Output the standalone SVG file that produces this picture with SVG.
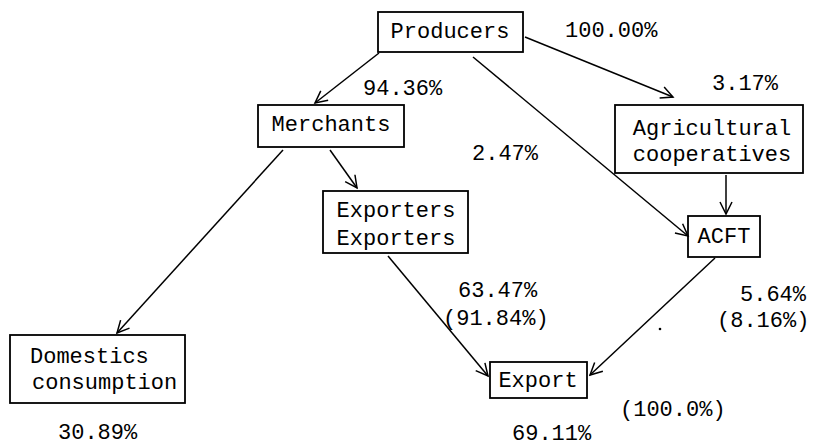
<svg xmlns="http://www.w3.org/2000/svg" width="817" height="447" viewBox="0 0 817 447">
<style>
.box{fill:none;stroke:#000;stroke-width:1.8}
.t{font-family:"Liberation Mono","Courier New",monospace;font-size:22px;fill:#000}
.c{text-anchor:middle}
.ln{fill:none;stroke:#000;stroke-width:1.5}
</style>
<defs>
<marker id="ah" viewBox="-14 -8 16 16" markerWidth="16" markerHeight="16" refX="0" refY="0" orient="auto" markerUnits="userSpaceOnUse">
<path d="M-12,-6 L0,0 L-12,6" fill="none" stroke="#000" stroke-width="1.5"/>
</marker>
</defs>
<rect width="817" height="447" fill="#fff"/>
<g id="connectors">
<line class="ln" x1="379" y1="53" x2="315" y2="103" marker-end="url(#ah)"/>
<line class="ln" x1="525" y1="37" x2="673" y2="97" marker-end="url(#ah)"/>
<line class="ln" x1="473" y1="57" x2="688" y2="236" marker-end="url(#ah)"/>
<line class="ln" x1="330" y1="150" x2="357" y2="188" marker-end="url(#ah)"/>
<line class="ln" x1="283" y1="150" x2="117" y2="333" marker-end="url(#ah)"/>
<line class="ln" x1="726" y1="175" x2="726" y2="214" marker-end="url(#ah)"/>
<line class="ln" x1="388" y1="256" x2="488" y2="376" marker-end="url(#ah)"/>
<line class="ln" x1="715" y1="258" x2="590" y2="375" marker-end="url(#ah)"/>
</g>
<g id="producers"><rect class="box" x="378" y="12" width="145" height="40"/><text class="t c" x="450" y="38">Producers</text></g>
<g id="merchants"><rect class="box" x="258" y="105" width="146" height="42"/><text class="t c" x="331" y="131">Merchants</text></g>
<g id="agri"><rect class="box" x="615" y="105" width="188" height="68"/><text class="t c" x="712" y="135">Agricultural</text><text class="t c" x="712" y="161">cooperatives</text></g>
<g id="acft"><rect class="box" x="688" y="216" width="72" height="41"/><text class="t c" x="724" y="243">ACFT</text></g>
<g id="exporters"><rect class="box" x="323" y="191" width="145" height="62"/><text class="t c" x="396" y="217">Exporters</text><text class="t c" x="396" y="245">Exporters</text></g>
<g id="domestics"><rect class="box" x="10" y="335" width="175" height="68"/><text class="t" x="30" y="363">Domestics</text><text class="t" x="32" y="389">consumption</text></g>
<g id="export"><rect class="box" x="490" y="362" width="97" height="36"/><text class="t c" x="538" y="387">Export</text></g>
<g id="labels">
<text class="t" x="565" y="37">100.00%</text>
<text class="t" x="363" y="95">94.36%</text>
<text class="t" x="712" y="90">3.17%</text>
<text class="t" x="472" y="160">2.47%</text>
<text class="t" x="458" y="297">63.47%</text>
<text class="t" x="443" y="325">(91.84%)</text>
<text class="t" x="740" y="301">5.64%</text>
<text class="t" x="717" y="327">(8.16%)</text>
<text class="t" x="620" y="416">(100.0%)</text>
<text class="t" x="512" y="440">69.11%</text>
<text class="t" x="58" y="439">30.89%</text>
<circle cx="660" cy="329" r="1.3" fill="#000"/>
</g>
</svg>
